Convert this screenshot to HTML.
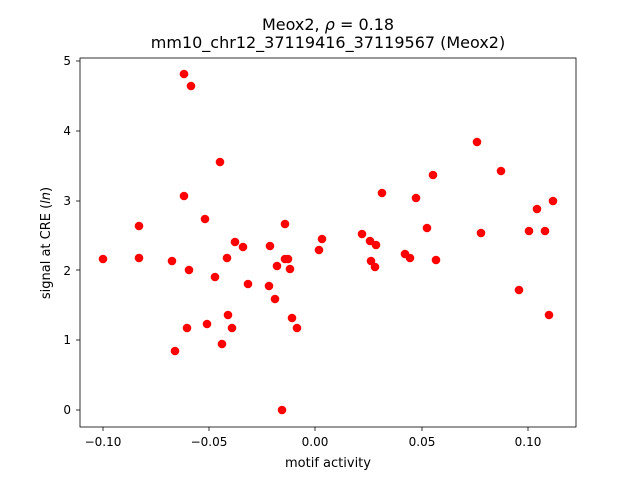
<!DOCTYPE html>
<html><head><meta charset="utf-8"><style>body{margin:0;background:#fff}</style></head><body>
<svg width="640" height="480" xmlns="http://www.w3.org/2000/svg" font-family="'DejaVu Sans','Liberation Sans',sans-serif" font-size="12">
<rect width="640" height="480" fill="#fff"/>
<g fill="#ff0000">
<circle cx="184" cy="74" r="4.3"/><circle cx="191" cy="86" r="4.3"/><circle cx="220" cy="162" r="4.3"/><circle cx="184" cy="196" r="4.3"/><circle cx="205" cy="219" r="4.3"/><circle cx="139" cy="226" r="4.3"/><circle cx="103" cy="259" r="4.3"/><circle cx="139" cy="258" r="4.3"/><circle cx="172" cy="261" r="4.3"/><circle cx="189" cy="270" r="4.3"/>
<circle cx="235" cy="242" r="4.3"/><circle cx="243" cy="247" r="4.3"/><circle cx="227" cy="258" r="4.3"/><circle cx="215" cy="277" r="4.3"/><circle cx="248" cy="284" r="4.3"/><circle cx="228" cy="315" r="4.3"/><circle cx="207" cy="324" r="4.3"/><circle cx="187" cy="328" r="4.3"/><circle cx="232" cy="328" r="4.3"/><circle cx="222" cy="344" r="4.3"/><circle cx="175" cy="351" r="4.3"/>
<circle cx="270" cy="246" r="4.3"/><circle cx="285" cy="224" r="4.3"/><circle cx="285" cy="259" r="4.3"/><circle cx="288" cy="259" r="4.3"/><circle cx="277" cy="266" r="4.3"/><circle cx="290" cy="269" r="4.3"/><circle cx="269" cy="286" r="4.3"/><circle cx="275" cy="299" r="4.3"/><circle cx="292" cy="318" r="4.3"/><circle cx="297" cy="328" r="4.3"/><circle cx="282" cy="410" r="4.3"/>
<circle cx="319" cy="250" r="4.3"/><circle cx="322" cy="239" r="4.3"/><circle cx="362" cy="234" r="4.3"/><circle cx="370" cy="241" r="4.3"/><circle cx="376" cy="245" r="4.3"/><circle cx="371" cy="261" r="4.3"/><circle cx="375" cy="267" r="4.3"/><circle cx="382" cy="193" r="4.3"/><circle cx="405" cy="254" r="4.3"/><circle cx="410" cy="258" r="4.3"/><circle cx="416" cy="198" r="4.3"/><circle cx="427" cy="228" r="4.3"/><circle cx="433" cy="175" r="4.3"/><circle cx="436" cy="260" r="4.3"/><circle cx="477" cy="142" r="4.3"/><circle cx="481" cy="233" r="4.3"/><circle cx="501" cy="171" r="4.3"/><circle cx="519" cy="290" r="4.3"/><circle cx="529" cy="231" r="4.3"/><circle cx="537" cy="209" r="4.3"/><circle cx="545" cy="231" r="4.3"/><circle cx="549" cy="315" r="4.3"/><circle cx="553" cy="201" r="4.3"/>
</g>
<rect x="80" y="58" width="496" height="369" fill="none" stroke="#000" stroke-width="0.8"/>
<g stroke="#000" stroke-width="0.8">
<line x1="103" y1="427" x2="103" y2="431"/><line x1="209" y1="427" x2="209" y2="431"/><line x1="315" y1="427" x2="315" y2="431"/><line x1="422" y1="427" x2="422" y2="431"/><line x1="528" y1="427" x2="528" y2="431"/>
<line x1="76" y1="410" x2="80" y2="410"/><line x1="76" y1="340" x2="80" y2="340"/><line x1="76" y1="270" x2="80" y2="270"/><line x1="76" y1="201" x2="80" y2="201"/><line x1="76" y1="131" x2="80" y2="131"/><line x1="76" y1="61" x2="80" y2="61"/>
</g>
<g text-anchor="middle">
<text x="103" y="446">−0.10</text><text x="209" y="446">−0.05</text><text x="315" y="446">0.00</text><text x="422" y="446">0.05</text><text x="528" y="446">0.10</text>
<text x="328" y="467" font-size="13">motif activity</text>
<text x="328" y="30" font-size="16">Meox2, <tspan font-style="italic">ρ</tspan> = 0.18</text>
<text x="328" y="48" font-size="16">mm10_chr12_37119416_37119567 (Meox2)</text>
</g>
<g text-anchor="end">
<text x="71" y="414">0</text><text x="71" y="344">1</text><text x="71" y="275">2</text><text x="71" y="205">3</text><text x="71" y="135">4</text><text x="71" y="65">5</text>
</g>
<text transform="translate(50,243) rotate(-90)" text-anchor="middle" font-size="13">signal at CRE (<tspan font-style="italic">ln</tspan>)</text>
</svg>
</body></html>
